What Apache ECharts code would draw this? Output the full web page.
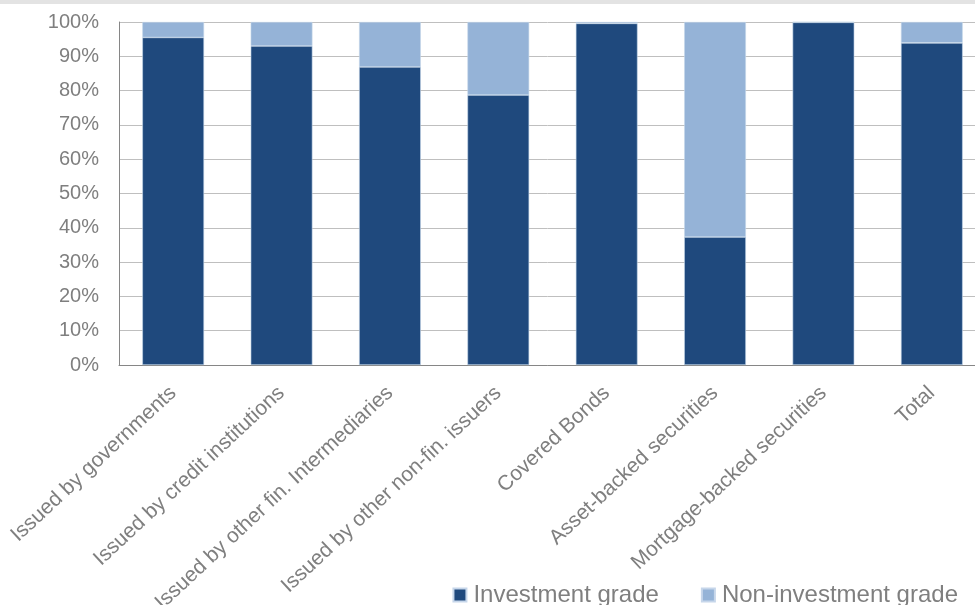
<!DOCTYPE html>
<html>
<head>
<meta charset="utf-8">
<script src="https://cdn.jsdelivr.net/npm/echarts@6/dist/echarts.min.js"></script>
<style>
	html, body {margin: 0; padding: 0; background: #fff;}
	#chart {width: 975px; height: 605px;}
</style>
</head>
<body>
<div id="chart"></div>
<script>
let categories = [
	"Issued by governments",
	"Issued by credit institutions",
	"Issued by other fin. Intermediaries",
	"Issued by other non-fin. issuers",
	"Covered Bonds",
	"Asset-backed securities",
	"Mortgage-backed securities",
	"Total"
]
let investmentGrade = [95.5, 93.0, 86.9, 78.7, 99.6, 37.3, 99.9, 93.9]
let nonInvestmentGrade = [4.5, 7.0, 13.1, 21.3, 0.4, 62.7, 0.1, 6.1]
let yTicks = [0, 10, 20, 30, 40, 50, 60, 70, 80, 90, 100]

let textColor = "#7f7f7f"
let axisColor = "#868686"

let chart = echarts.init(document.getElementById("chart"))
let option = {
	animation: false,
	textStyle: {fontFamily: "Liberation Sans, Arial, sans-serif"},
	graphic: [{
		type: "rect",
		left: 0, top: 0,
		shape: {width: 975, height: 4},
		style: {fill: "#e3e3e3"}
	}],
	grid: {left: 119, right: -11, top: 22, bottom: 240, containLabel: false, outerBoundsMode: "none"},
	legend: {
		right: 12,
		top: 578,
		itemWidth: 13,
		itemHeight: 13,
		itemGap: 42,
		icon: "rect",
		textStyle: {color: textColor, fontSize: 24, padding: [0, 0, 0, 2]},
		data: ["Investment grade", "Non-investment grade"]
	},
	xAxis: {
		type: "category",
		data: categories,
		axisLine: {lineStyle: {color: axisColor}},
		axisTick: {inside: true, length: 6, lineStyle: {color: axisColor}},
		axisLabel: {rotate: 43, color: textColor, fontSize: 21, interval: 0, margin: 25}
	},
	yAxis: {
		type: "value",
		min: yTicks[0],
		max: yTicks[yTicks.length - 1],
		interval: 10,
		axisLine: {show: true, lineStyle: {color: axisColor}},
		axisTick: {show: false},
		splitLine: {lineStyle: {color: "#bfbfbf"}},
		axisLabel: {color: textColor, fontSize: 20, margin: 20, formatter: "{value}%"}
	},
	series: [
		{
			name: "Investment grade",
			type: "bar",
			stack: "total",
			barWidth: "57%",
			itemStyle: {color: "#1f497d", borderColor: "#c6d6ea", borderWidth: 0.6},
			data: investmentGrade
		},
		{
			name: "Non-investment grade",
			type: "bar",
			stack: "total",
			itemStyle: {color: "#95b3d7", borderColor: "#c6d6ea", borderWidth: 0.6},
			data: nonInvestmentGrade
		}
	]
}
chart.setOption(option)
</script>
</body>
</html>
